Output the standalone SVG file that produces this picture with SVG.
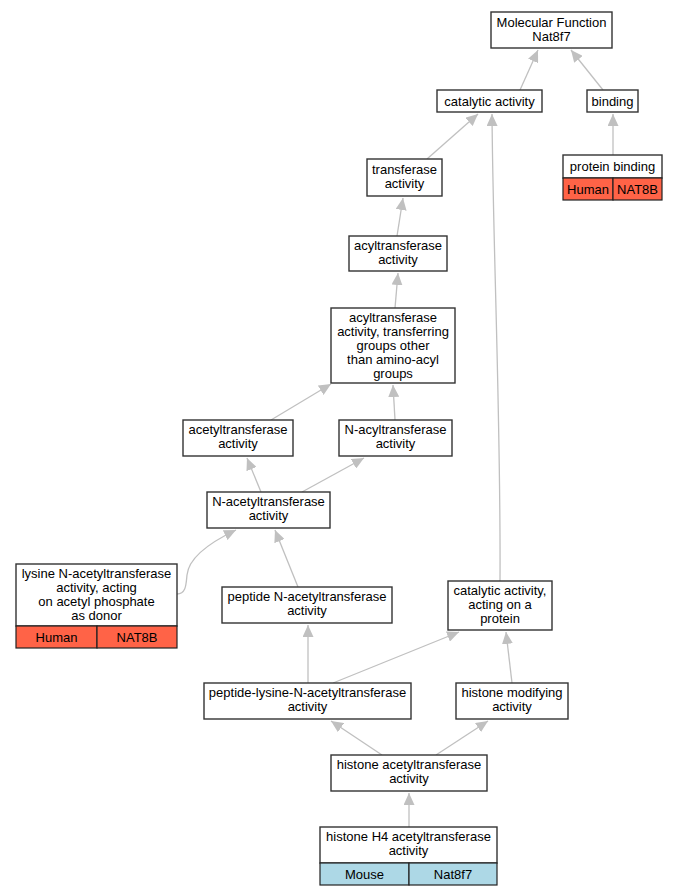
<svg xmlns="http://www.w3.org/2000/svg" width="677" height="896" viewBox="0 0 677 896">
<defs>
<style>
text{font-family:"Liberation Sans",Arial,sans-serif;font-size:13px;fill:#000;text-anchor:middle}
.n{fill:#fff;stroke:#333;stroke-width:1.4}
.h{fill:#ff6347;stroke:#222;stroke-width:1.2}
.m{fill:#add8e6;stroke:#222;stroke-width:1.2}
.e{fill:none;stroke:#c0c0c0;stroke-width:1.3;marker-end:url(#a)}
</style>
<marker id="a" markerUnits="userSpaceOnUse" markerWidth="13" markerHeight="11" refX="12" refY="5.5" orient="auto" viewBox="0 0 13 11">
<path d="M0,0 L12,5.5 L0,11 Z" fill="#c0c0c0"/>
</marker>
</defs>
<rect width="677" height="896" fill="#fff"/>
<g id="edges">
<path class="e" d="M520,90 L538,50"/>
<path class="e" d="M603,90 L571,50"/>
<path class="e" d="M613,155 L613,114"/>
<path class="e" d="M427,159 L478,114"/>
<path class="e" d="M500,581 C501,420 493,250 492,114"/>
<path class="e" d="M397,236 L403,198"/>
<path class="e" d="M395,308 L398,273"/>
<path class="e" d="M271,420 L331,384"/>
<path class="e" d="M395,420 L393,385"/>
<path class="e" d="M261,492 L247,458"/>
<path class="e" d="M302,492 L364,458"/>
<path class="e" d="M177,594 C186,594 186,585 187,575 C189,555 215,540 236,530"/>
<path class="e" d="M298,587 L275,530"/>
<path class="e" d="M308,683 L308,625"/>
<path class="e" d="M333,683 L459,632"/>
<path class="e" d="M512,683 L506,632"/>
<path class="e" d="M382,755 L331,721"/>
<path class="e" d="M436,755 L488,721"/>
<path class="e" d="M409,827 L409,793"/>
</g>
<g id="mf">
<rect class="n" x="491" y="12" width="121" height="36"/>
<text x="551.5" y="27">Molecular Function</text>
<text x="551.5" y="41">Nat8f7</text>
</g>
<g id="catalytic">
<rect class="n" x="437" y="90" width="105" height="22"/>
<text x="489.5" y="105.5">catalytic activity</text>
</g>
<g id="binding">
<rect class="n" x="587" y="90" width="51" height="22"/>
<text x="612.5" y="105.5">binding</text>
</g>
<g id="protein_binding">
<rect class="n" x="563" y="155" width="99" height="23"/>
<text x="612.5" y="170.5">protein binding</text>
<rect class="h" x="563" y="178" width="50" height="22"/>
<rect class="h" x="613" y="178" width="49" height="22"/>
<text x="588" y="193.5">Human</text>
<text x="637.5" y="193.5">NAT8B</text>
</g>
<g id="transferase">
<rect class="n" x="367" y="159" width="75" height="37"/>
<text x="404.5" y="174">transferase</text>
<text x="404.5" y="188">activity</text>
</g>
<g id="acyltransferase">
<rect class="n" x="349" y="236" width="98" height="35"/>
<text x="398" y="250">acyltransferase</text>
<text x="398" y="264">activity</text>
</g>
<g id="acyl_groups">
<rect class="n" x="331" y="308" width="124" height="75"/>
<text x="393" y="322">acyltransferase</text>
<text x="393" y="336">activity, transferring</text>
<text x="393" y="350">groups other</text>
<text x="393" y="364">than amino-acyl</text>
<text x="393" y="378">groups</text>
</g>
<g id="acetyltransferase">
<rect class="n" x="183" y="420" width="110" height="36"/>
<text x="238" y="434">acetyltransferase</text>
<text x="238" y="448">activity</text>
</g>
<g id="n_acyltransferase">
<rect class="n" x="339" y="420" width="113" height="36"/>
<text x="395.5" y="434">N-acyltransferase</text>
<text x="395.5" y="448">activity</text>
</g>
<g id="n_acetyltransferase">
<rect class="n" x="207" y="492" width="123" height="36"/>
<text x="268.5" y="506">N-acetyltransferase</text>
<text x="268.5" y="520">activity</text>
</g>
<g id="lysine">
<rect class="n" x="16" y="564" width="161" height="62"/>
<text x="96.5" y="578">lysine N-acetyltransferase</text>
<text x="96.5" y="592">activity, acting</text>
<text x="96.5" y="606">on acetyl phosphate</text>
<text x="96.5" y="620">as donor</text>
<rect class="h" x="16" y="626" width="81" height="22"/>
<rect class="h" x="97" y="626" width="80" height="22"/>
<text x="56.5" y="641.5">Human</text>
<text x="137" y="641.5">NAT8B</text>
</g>
<g id="peptide_n">
<rect class="n" x="222" y="587" width="170" height="36"/>
<text x="307" y="601">peptide N-acetyltransferase</text>
<text x="307" y="615">activity</text>
</g>
<g id="cat_protein">
<rect class="n" x="448" y="581" width="104" height="49"/>
<text x="500" y="595">catalytic activity,</text>
<text x="500" y="609">acting on a</text>
<text x="500" y="623">protein</text>
</g>
<g id="peptide_lysine">
<rect class="n" x="204" y="683" width="207" height="36"/>
<text x="307.5" y="697">peptide-lysine-N-acetyltransferase</text>
<text x="307.5" y="711">activity</text>
</g>
<g id="histone_mod">
<rect class="n" x="456" y="683" width="112" height="36"/>
<text x="512" y="697">histone modifying</text>
<text x="512" y="711">activity</text>
</g>
<g id="histone_acetyl">
<rect class="n" x="331" y="755" width="156" height="36"/>
<text x="409" y="769">histone acetyltransferase</text>
<text x="409" y="783">activity</text>
</g>
<g id="h4">
<rect class="n" x="320" y="827" width="177" height="36"/>
<text x="408.5" y="841">histone H4 acetyltransferase</text>
<text x="408.5" y="855">activity</text>
<rect class="m" x="320" y="863" width="89" height="22"/>
<rect class="m" x="409" y="863" width="88" height="22"/>
<text x="364.5" y="878.5">Mouse</text>
<text x="453" y="878.5">Nat8f7</text>
</g>
</svg>
